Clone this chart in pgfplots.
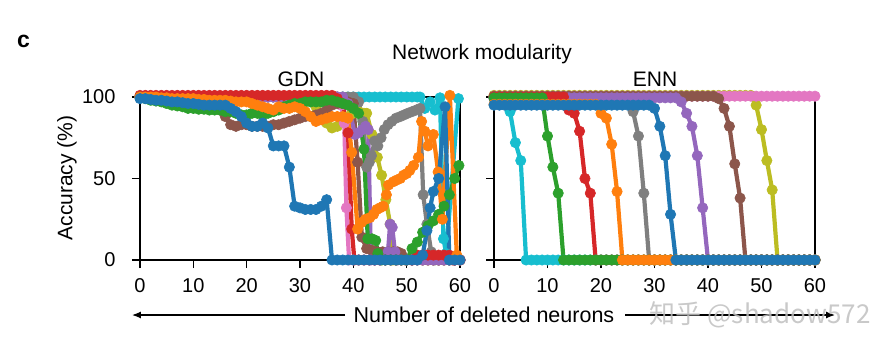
\documentclass[border=0pt]{standalone}
\usepackage{pgfplots}
\pgfplotsset{compat=1.18}
\usepackage{fontspec}
\setmainfont{Liberation Sans}
\newfontfamily\cjk{Noto Sans CJK SC}
\usetikzlibrary{arrows.meta}
\definecolor{tblue}{HTML}{1F77B4}
\definecolor{torange}{HTML}{FF7F0E}
\definecolor{tgreen}{HTML}{2CA02C}
\definecolor{tred}{HTML}{D62728}
\definecolor{tpurple}{HTML}{9467BD}
\definecolor{tbrown}{HTML}{8C564B}
\definecolor{tpink}{HTML}{E377C2}
\definecolor{tgray}{HTML}{7F7F7F}
\definecolor{tolive}{HTML}{BCBD22}
\definecolor{tcyan}{HTML}{17BECF}
\pgfplotsset{
 ser/.style={color=#1, line width=4.2pt, line join=round, mark=*, mark size=5.2pt, mark options={line width=0.6pt, fill=#1, draw=#1, solid}},
 common/.style={
  anchor=south west, height=163pt, scale only axis,
  xmin=0, xmax=60, ymin=0, ymax=100, clip=false,
  xtick={0,10,...,60}, ytick={0,50,100},
  tick align=outside, major tick length=8pt,
  xtick pos=left, ytick pos=left,
  axis line style={line width=1.2pt, black},
  tick style={line width=1.2pt, black},
  ticklabel style={font=\fontsize{20}{24}\selectfont},
  xticklabel style={yshift=-7pt},
  yticklabel style={xshift=-13pt},
  /pgf/number format/assume math mode=true,
 }
}
\begin{document}
\begin{tikzpicture}
\path[use as bounding box] (-140pt,-91pt) rectangle (741pt,260pt);
% ---------------- GDN ----------------
\begin{axis}[common, at={(0pt,0pt)}, width=320pt]
\addplot[ser=tcyan] coordinates {(0,100)(1,100)(2,100)(3,100)(4,100)(5,100)(6,100)(7,100)(8,100)(9,100)(10,100)(11,100)(12,100)(13,100)(14,100)(15,100)(16,100)(17,100)(18,100)(19,100)(20,100)(21,100)(22,100)(23,100)(24,100)(25,100)(26,100)(27,100)(28,100)(29,100)(30,100)(31,100)(32,100)(33,100)(34,100)(35,100)(36,100)(37,100)(38,100)(39,100)(40,100)(41,100)(42,100)(43,100)(44,100)(45,100)(46,100)(47,100)(48,100)(49,100)(50,100)(51,100)(52,100)(52.5,100)(53.4,93)(54.4,97)(55.3,92)(56.25,99.5)(56.9,13)(57.4,4)(59.7,99)};
\addplot[ser=tolive] coordinates {(0,100)(1,100)(2,100)(3,100)(4,100)(5,100)(6,100)(7,100)(8,100)(9,100)(10,100)(11,100)(12,100)(13,100)(14,100)(15,100)(16,100)(17,100)(18,100)(19,100)(20,100)(21,100)(22,100)(23,100)(24,100)(25,100)(26,100)(27,100)(28,100)(29,100)(30,100)(31,100)(32,98)(33,94)(34,89)(35,84)(36,81)(37,82)(38,86)(39,88)(40,90)(41,91)(42,90)(42.5,90)(43.5,77)(44.5,63)(45.3,52)(46.1,37)(46.9,22)(47.4,0)(48,0)(49,0)(50,0)(51,0)(52,0)(53,0)(54,0)(55,0)(56,0)(57,0)(58,0)(59,0)(60,0)};
\addplot[ser=tgray] coordinates {(0,100)(1,100)(2,100)(3,100)(4,100)(5,100)(6,100)(7,100)(8,100)(9,100)(10,100)(11,100)(12,100)(13,100)(14,100)(15,100)(16,100)(17,100)(18,100)(19,100)(20,100)(21,100)(22,100)(23,100)(24,100)(25,100)(26,100)(27,100)(28,100)(29,100)(30,100)(31,100)(32,100)(33,100)(34,100)(35,100)(36,100)(37,100)(38,100)(39,100)(40,100)(41,97)(41.8,85)(42.5,57)(43,60)(43.4,64)(44,73)(44.6,70)(45.2,75)(45.8,80)(46.5,83)(47.2,85)(48,87)(48.8,88)(49.5,89)(50.2,90)(51,91)(51.8,92)(52.5,93)(53.1,40)(53.8,22)(54.6,5)(55.3,0)(56,0)(57,0)(58,0)(59,0)(60,0)};
\addplot[ser=tpink] coordinates {(0,100)(1,100)(2,100)(3,100)(4,100)(5,100)(6,100)(7,100)(8,100)(9,100)(10,100)(11,100)(12,100)(13,100)(14,100)(15,100)(16,100)(17,100)(18,100)(19,100)(20,100)(21,100)(22,100)(23,100)(24,100)(25,100)(26,100)(27,100)(28,100)(29,100)(30,100)(31,100)(32,100)(33,100)(34,100)(35,100)(36,100)(37,100)(37.7,95)(38.3,84)(38.7,32)(39.2,0)(40,0)(41,0)(42,0)(43,0)(44,0)(45,0)(46,0)(47,0)(48,0)(49,0)(50,0)(51,0)(52,0)(53,0)(54,0)(55,0)(56,0)(57,0)(58,0)(59,0)(60,0)};
\addplot[ser=tbrown] coordinates {(0,100)(1,100)(2,99.5)(3,99.5)(4,99)(5,99)(6,98.5)(7,98.5)(8,98)(9,98)(10,97.5)(11,97)(12,97)(13,96)(14,95)(15,92)(16,88)(17,83)(18,82)(19,83)(20,83)(21,82)(22,82)(23,82)(24,82)(25,83)(26,83)(27,84)(28,85)(29,86)(30,87)(31,88)(32,88)(33,89)(34,90)(35,92)(36,95)(37,96)(38,97)(39,97)(40,96)(40.8,60)(41.6,14)(42.5,7)(43.5,6)(44.5,5)(45.5,5)(46.5,5)(47.5,5)(48.3,5)(49,4)(49.7,0)(50,0)(51,0)(52,0)(53,0)(54,0)(55,0)(56,0)(57,0)(58,0)(59,0)(60,0)};
\addplot[ser=tpurple] coordinates {(0,100)(1,100)(2,100)(3,100)(4,100)(5,100)(6,100)(7,100)(8,100)(9,100)(10,100)(11,100)(12,100)(13,100)(14,100)(15,100)(16,100)(17,100)(18,100)(19,100)(20,100)(21,100)(22,100)(23,100)(24,100)(25,100)(26,100)(27,100)(28,100)(29,100)(30,100)(31,100)(32,100)(33,100)(34,100)(35,100)(36,100)(37,100)(38,100)(39,96)(40.3,77)(41,78)(41.7,80)(42.3,82)(42.8,80)(43.3,0)(44,0)(45,0)(46,0)(46.5,5)(46.9,22)(47.3,20)(47.8,5)(48.3,0)(49,0)(50,0)(51,0)(52,0)(53,0)(54,0)(55,0)(56,0)(57,0)(58,0)(59,0)(60,0)};
\addplot[ser=tred] coordinates {(0,101)(1,101)(2,101)(3,101)(4,101)(5,101)(6,101)(7,101)(8,101)(9,101)(10,101)(11,101)(12,101)(13,101)(14,101)(15,101)(16,101)(17,101)(18,101)(19,101)(20,101)(21,101)(22,101)(23,101)(24,101)(25,101)(26,101)(27,101)(28,101)(29,101)(30,101)(31,101)(32,101)(33,101)(34,101)(35,101)(36,101)(37,99)(38,96)(39,78)(39.7,19)(40.2,0)(41,0)(42,0)(43,0)(44,0)(45,0)(46,0)(47,0)(48,0)(49,0)(50,0)(51,0)(52,3)(53,3)(54,3)(55,3)(56,3)(57,3)(58,3)(58.6,0)(59,0)(60,0)};
\addplot[ser=tgreen] coordinates {(0,100)(1,99)(2,98)(3,97.5)(4,97)(5,96)(6,95)(7,94.5)(8,94)(9,93)(10,93)(11,92.5)(12,92.5)(13,92)(14,92)(15,92)(16,91)(17,91)(18,90)(19,89)(20,89)(21,90)(22,90)(23,89)(24,90)(25,91)(26,92)(27,94)(28,95)(29,96)(30,96)(31,97)(32,97)(33,97)(34,97)(35,98)(36,98)(37,97)(38,96)(39,95)(40,93)(41,90)(42,68)(42.7,13)(43.5,13)(44.2,12)(44.6,4)(45.3,0)(46,0)(47,0)(48,0)(49,0)(50,0)(51,7)(52,11)(53,17)(54,21)(55,24)(56,28)(57,33)(58,40)(59,50)(59.8,58)};
\addplot[ser=torange] coordinates {(0,100)(1,100)(2,100)(3,100)(4,99.5)(5,99.5)(6,99)(7,99)(8,99)(9,99)(10,99)(11,98.5)(12,98.5)(13,98)(14,98)(15,98)(16,98)(17,97.5)(18,97)(19,97)(20,97)(21,96)(22,95)(23,94)(24,93)(25,92)(26,94)(27,93)(28,93)(29,94)(30,93)(31,91)(32,88)(33,85)(34,86)(35,87)(36,88)(37,88)(38,88)(39,87)(39.7,66)(40.8,19)(41.5,23)(42.3,25)(43.1,26)(43.8,28)(44.4,31)(45,32)(45.6,33)(46.2,40)(46.6,46)(47.5,48)(48.1,49)(48.8,50)(49.4,52)(50,53)(50.6,55)(51.3,58)(52.2,63)(52.8,85)(53.4,79)(54,70)(55,77)(55.9,54)(56.7,25)(58.1,101)(59.4,3)};
\addplot[ser=tblue] coordinates {(0,99)(1,99)(2,98.5)(3,98)(4,98)(5,97.5)(6,97)(7,97)(8,96.5)(9,96)(10,96)(11,95.5)(12,95)(13,95)(14,95)(15,95)(16,95)(17,93)(18,91)(19,88)(20,84)(21,82)(22,82)(23,84)(24,81)(25,70)(26,70)(27,70)(28,57)(29,33)(30,32)(31,31)(32,31)(33,31)(34,33)(35,37)(36,0)(37,0)(38,0)(39,0)(40,0)(41,0)(42,0)(43,0)(44,0)(45,0)(46,0)(47,0)(48,0)(49,0)(50,0)(51,0)(52,0)(53,3)(53.8,18)(54.4,32)(55,42)(56,50)(57.2,94)(58,0)(59,0)(60,0)};
\end{axis}
% ---------------- ENN ----------------
\begin{axis}[common, at={(354pt,0pt)}, width=321pt, yticklabels={}]
\addplot[ser=tcyan] coordinates {(0,99.5)(1,99.5)(2,99.5)(3,91)(4,72)(5,61)(6,0)(7,0)(8,0)(9,0)(10,0)(11,0)(12,0)(13,0)(14,0)(15,0)(16,0)(17,0)(18,0)(19,0)(20,0)(21,0)(22,0)(23,0)(24,0)(25,0)(26,0)(27,0)(28,0)(29,0)(30,0)(31,0)(32,0)(33,0)(34,0)(35,0)(36,0)(37,0)(38,0)(39,0)(40,0)(41,0)(42,0)(43,0)(44,0)(45,0)(46,0)(47,0)(48,0)(49,0)(50,0)(51,0)(52,0)(53,0)(54,0)(55,0)(56,0)(57,0)(58,0)(59,0)(60,0)};
\addplot[ser=tolive] coordinates {(0,101)(1,101)(2,101)(3,101)(4,101)(5,101)(6,101)(7,101)(8,101)(9,101)(10,101)(11,101)(12,101)(13,101)(14,101)(15,101)(16,101)(17,101)(18,101)(19,101)(20,101)(21,101)(22,101)(23,101)(24,101)(25,101)(26,101)(27,101)(28,101)(29,101)(30,101)(31,101)(32,101)(33,101)(34,101)(35,101)(36,101)(37,101)(38,101)(39,101)(40,101)(41,101)(42,101)(43,101)(44,101)(45,101)(46,101)(47,101)(48,101)(49,95)(50,80)(51,61)(52,43)(53,0)(54,0)(55,0)(56,0)(57,0)(58,0)(59,0)(60,0)};
\addplot[ser=tgray] coordinates {(0,99)(1,99)(2,99)(3,99)(4,99)(5,99)(6,99)(7,99)(8,99)(9,99)(10,99)(11,99)(12,99)(13,99)(14,99)(15,99)(16,99)(17,99)(18,99)(19,99)(20,99)(21,99)(22,99)(23,99)(24,99)(25,99)(26,91)(27,76)(28,41)(29,0)(30,0)(31,0)(32,0)(33,0)(34,0)(35,0)(36,0)(37,0)(38,0)(39,0)(40,0)(41,0)(42,0)(43,0)(44,0)(45,0)(46,0)(47,0)(48,0)(49,0)(50,0)(51,0)(52,0)(53,0)(54,0)(55,0)(56,0)(57,0)(58,0)(59,0)(60,0)};
\addplot[ser=tpink] coordinates {(0,100.5)(1,100.5)(2,100.5)(3,100.5)(4,100.5)(5,100.5)(6,100.5)(7,100.5)(8,100.5)(9,100.5)(10,100.5)(11,100.5)(12,100.5)(13,100.5)(14,100.5)(15,100.5)(16,100.5)(17,100.5)(18,100.5)(19,100.5)(20,100.5)(21,100.5)(22,100.5)(23,100.5)(24,100.5)(25,100.5)(26,100.5)(27,100.5)(28,100.5)(29,100.5)(30,100.5)(31,100.5)(32,100.5)(33,100.5)(34,100.5)(35,100.5)(36,100.5)(37,100.5)(38,100.5)(39,100.5)(40,100.5)(41,100.5)(42,100.5)(43,100.5)(44,100.5)(45,100.5)(46,100.5)(47,100.5)(48,100.5)(49,100.5)(50,100.5)(51,100.5)(52,100.5)(53,100.5)(54,100.5)(55,100.5)(56,100.5)(57,100.5)(58,100.5)(59,100.5)(60,100.5)};
\addplot[ser=tbrown] coordinates {(0,100.5)(1,100.5)(2,100.5)(3,100.5)(4,100.5)(5,100.5)(6,100.5)(7,100.5)(8,100.5)(9,100.5)(10,100.5)(11,100.5)(12,100.5)(13,100.5)(14,100.5)(15,100.5)(16,100.5)(17,100.5)(18,100.5)(19,100.5)(20,100.5)(21,100.5)(22,100.5)(23,100.5)(24,100.5)(25,100.5)(26,100.5)(27,100.5)(28,100.5)(29,100.5)(30,100.5)(31,100.5)(32,100.5)(33,100.5)(34,100.5)(35,100.5)(36,100.5)(37,100.5)(38,100.5)(39,100.5)(40,100.5)(41,100.5)(42,99)(43,93)(44,82)(45,59)(46,38)(47,0)(48,0)(49,0)(50,0)(51,0)(52,0)(53,0)(54,0)(55,0)(56,0)(57,0)(58,0)(59,0)(60,0)};
\addplot[ser=tpurple] coordinates {(0,99.5)(1,99.5)(2,99.5)(3,99.5)(4,99.5)(5,99.5)(6,99.5)(7,99.5)(8,99.5)(9,99.5)(10,99.5)(11,99.5)(12,99.5)(13,99.5)(14,99.5)(15,99.5)(16,99.5)(17,99.5)(18,99.5)(19,99.5)(20,99.5)(21,99.5)(22,99.5)(23,99.5)(24,99.5)(25,99.5)(26,99.5)(27,99.5)(28,99.5)(29,99.5)(30,99.5)(31,99.5)(32,99.5)(33,99.5)(34,99.5)(35,97)(36,90)(37,82)(38,64)(39,32)(40,0)(41,0)(42,0)(43,0)(44,0)(45,0)(46,0)(47,0)(48,0)(49,0)(50,0)(51,0)(52,0)(53,0)(54,0)(55,0)(56,0)(57,0)(58,0)(59,0)(60,0)};
\addplot[ser=tred] coordinates {(0,100)(1,100)(2,100)(3,100)(4,100)(5,100)(6,100)(7,100)(8,100)(9,100)(10,100)(11,100)(12,100)(13,100)(14,92)(15,90)(16,79)(17,50)(18,41)(19,0)(20,0)(21,0)(22,0)(23,0)(24,0)(25,0)(26,0)(27,0)(28,0)(29,0)(30,0)(31,0)(32,0)(33,0)(34,0)(35,0)(36,0)(37,0)(38,0)(39,0)(40,0)(41,0)(42,0)(43,0)(44,0)(45,0)(46,0)(47,0)(48,0)(49,0)(50,0)(51,0)(52,0)(53,0)(54,0)(55,0)(56,0)(57,0)(58,0)(59,0)(60,0)};
\addplot[ser=tgreen] coordinates {(0,99.5)(1,99.5)(2,99.5)(3,99.5)(4,99.5)(5,99.5)(6,99.5)(7,99.5)(8,99.5)(9,99.5)(10,76)(11,57)(12,41)(13,0)(14,0)(15,0)(16,0)(17,0)(18,0)(19,0)(20,0)(21,0)(22,0)(23,0)(24,0)(25,0)(26,0)(27,0)(28,0)(29,0)(30,0)(31,0)(32,0)(33,0)(34,0)(35,0)(36,0)(37,0)(38,0)(39,0)(40,0)(41,0)(42,0)(43,0)(44,0)(45,0)(46,0)(47,0)(48,0)(49,0)(50,0)(51,0)(52,0)(53,0)(54,0)(55,0)(56,0)(57,0)(58,0)(59,0)(60,0)};
\addplot[ser=torange] coordinates {(0,95.5)(1,95.5)(2,95.5)(3,95.5)(4,95.5)(5,95.5)(6,95.5)(7,95.5)(8,95.5)(9,95.5)(10,95.5)(11,95.5)(12,95.5)(13,95.5)(14,95.5)(15,95.5)(16,95.5)(17,95.5)(18,95.5)(19,95.5)(20,90)(21,87)(22,71)(23,42)(24,0)(25,0)(26,0)(27,0)(28,0)(29,0)(30,0)(31,0)(32,0)(33,0)(34,0)(35,0)(36,0)(37,0)(38,0)(39,0)(40,0)(41,0)(42,0)(43,0)(44,0)(45,0)(46,0)(47,0)(48,0)(49,0)(50,0)(51,0)(52,0)(53,0)(54,0)(55,0)(56,0)(57,0)(58,0)(59,0)(60,0)};
\addplot[ser=tblue] coordinates {(0,95)(1,95)(2,95)(3,95)(4,95)(5,95)(6,95)(7,95)(8,95)(9,95)(10,95)(11,95)(12,95)(13,95)(14,95)(15,95)(16,95)(17,95)(18,95)(19,95)(20,95)(21,95)(22,95)(23,95)(24,95)(25,95)(26,95)(27,95)(28,95)(29,95)(30,93)(31,82)(32,64)(33,28)(34,0)(35,0)(36,0)(37,0)(38,0)(39,0)(40,0)(41,0)(42,0)(43,0)(44,0)(45,0)(46,0)(47,0)(48,0)(49,0)(50,0)(51,0)(52,0)(53,0)(54,0)(55,0)(56,0)(57,0)(58,0)(59,0)(60,0)};
\end{axis}
% ---------------- texts ----------------
\node[font=\fontsize{23}{26}\selectfont\bfseries] at (-116.5pt,219pt) {c};
\node[font=\fontsize{21}{24}\selectfont, anchor=base, inner sep=0pt] at (342pt,200.7pt) {Network modularity};
\node[font=\fontsize{21}{24}\selectfont, anchor=base, inner sep=0pt] at (161pt,173.3pt) {GDN};
\node[font=\fontsize{21}{24}\selectfont, anchor=base, inner sep=0pt] at (515pt,173.3pt) {ENN};
\node[font=\fontsize{21}{24}\selectfont, rotate=90, inner sep=0pt] at (-73pt,82pt) {Accuracy (\%)};
\node[font=\fontsize{21.5}{24}\selectfont, anchor=base, inner sep=0pt] at (344pt,-62.3pt) {Number of deleted neurons};
\draw[line width=1.2pt, -{Latex[length=9pt,width=7pt]}] (205pt,-55pt) -- (-8pt,-55pt);
\draw[line width=1.2pt, -{Latex[length=9pt,width=7pt]}] (485pt,-55pt) -- (695pt,-55pt);
\node[font=\cjk\fontsize{26}{28}\selectfont, text=black!25, opacity=0.85, inner sep=0pt] at (620pt,-55pt) {知乎 @shadow572};
\end{tikzpicture}
\end{document}
